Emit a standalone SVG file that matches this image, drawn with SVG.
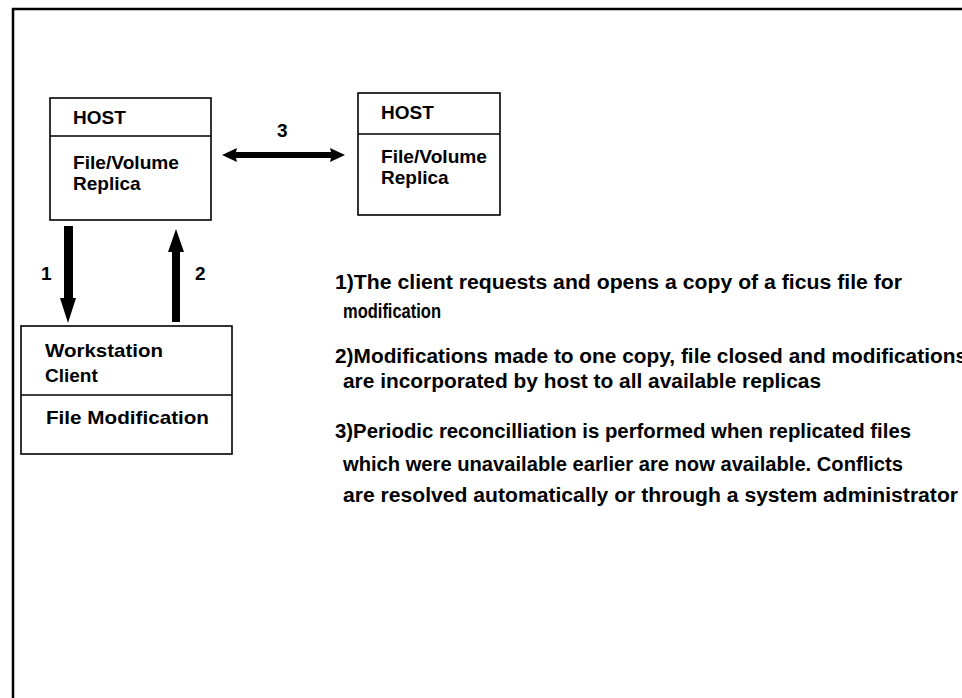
<svg xmlns="http://www.w3.org/2000/svg" width="962" height="698" viewBox="0 0 962 698">
<style>
.box{fill:#fff;stroke:#000;stroke-width:1.6}
.t{font-family:"Liberation Sans",Arial,sans-serif;font-weight:bold;font-size:19px;fill:#000}
.d{font-family:"Liberation Sans",Arial,sans-serif;font-weight:bold;font-size:20px;fill:#000}
.arr{fill:#000}
</style>
<rect width="962" height="698" fill="#fff"/>
<path d="M13,698 V9 H962" fill="none" stroke="#000" stroke-width="2.5"/>
<g id="host1">
<rect class="box" x="50" y="98" width="161" height="122"/>
<line class="box" x1="50" y1="136" x2="211" y2="136"/>
<text class="t" x="73" y="124">HOST</text>
<text class="t" x="73" y="169" textLength="106" lengthAdjust="spacingAndGlyphs">File/Volume</text>
<text class="t" x="73" y="190">Replica</text>
</g>
<g id="host2">
<rect class="box" x="358" y="93" width="142" height="122"/>
<line class="box" x1="358" y1="134" x2="500" y2="134"/>
<text class="t" x="381" y="119">HOST</text>
<text class="t" x="381" y="163" textLength="106" lengthAdjust="spacingAndGlyphs">File/Volume</text>
<text class="t" x="381" y="184">Replica</text>
</g>
<g id="client">
<rect class="box" x="21" y="326" width="211" height="128"/>
<line class="box" x1="21" y1="395" x2="232" y2="395"/>
<text class="t" x="45" y="357" textLength="118" lengthAdjust="spacingAndGlyphs">Workstation</text>
<text class="t" x="45" y="382">Client</text>
<text class="t" x="46" y="424" textLength="163" lengthAdjust="spacingAndGlyphs">File Modification</text>
</g>
<g id="connectors">
<polygon class="arr" points="222,155 237,148 236,152 331,152 330,148 345,155 330,162 331,158 236,158 237,162"/>
<text class="t" x="277" y="137">3</text>
<polygon class="arr" points="64,226 73,226 73,298 76,298 68,323 60,298 64,298"/>
<text class="t" x="41" y="280">1</text>
<polygon class="arr" points="172,322 180,322 180,252 184,252 176,229 168,252 172,252"/>
<text class="t" x="195" y="280">2</text>
</g>
<g id="notes">
<text class="d" x="335" y="289" textLength="567" lengthAdjust="spacingAndGlyphs">1)The client requests and opens a copy of a ficus file for</text>
<text class="d" x="343" y="318" textLength="98" lengthAdjust="spacingAndGlyphs">modification</text>
<text class="d" x="335" y="363" textLength="632" lengthAdjust="spacingAndGlyphs">2)Modifications made to one copy, file closed and modifications</text>
<text class="d" x="343" y="388" textLength="478" lengthAdjust="spacingAndGlyphs">are incorporated by host to all available replicas</text>
<text class="d" x="335" y="438" textLength="576" lengthAdjust="spacingAndGlyphs">3)Periodic reconcilliation is performed when replicated files</text>
<text class="d" x="343" y="471" textLength="560" lengthAdjust="spacingAndGlyphs">which were unavailable earlier are now available. Conflicts</text>
<text class="d" x="343" y="502" textLength="615" lengthAdjust="spacingAndGlyphs">are resolved automatically or through a system administrator</text>
</g>
</svg>
